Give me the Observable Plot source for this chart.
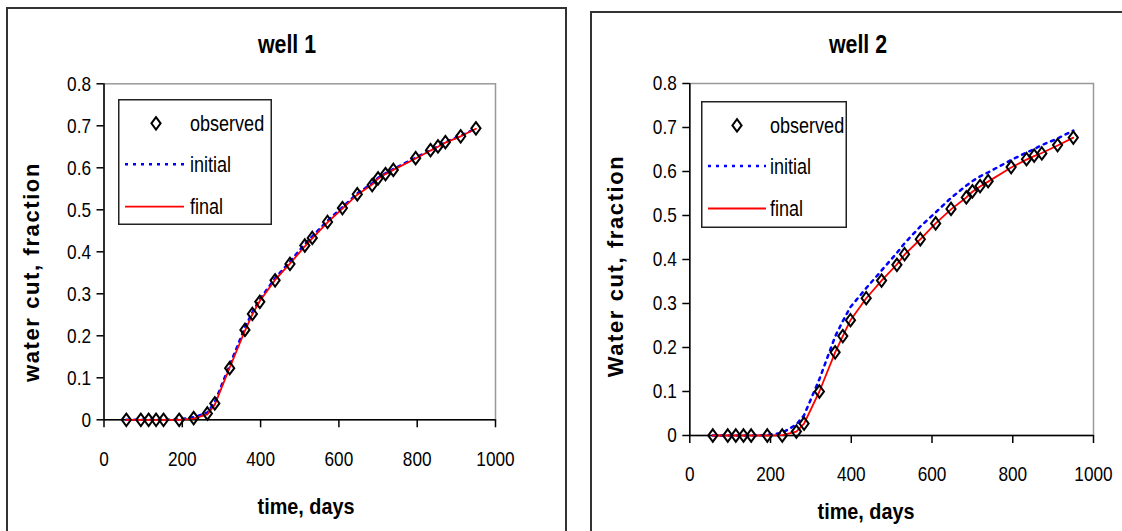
<!DOCTYPE html>
<html>
<head>
<meta charset="utf-8">
<script src="https://cdn.jsdelivr.net/npm/d3@7"></script>
<script src="https://cdn.jsdelivr.net/npm/@observablehq/plot@0.6"></script>
<style>
  html, body { margin: 0; padding: 0; background: #fff; }
  #wrap { position: relative; width: 1122px; height: 531px; overflow: hidden; background: #fff; }
  .abs { position: absolute; }
  .panel { position: absolute; border: 2px solid #333; box-sizing: border-box; }
  .title { position: absolute; font-family: "Liberation Sans", Arial, sans-serif; font-weight: bold; font-size: 26px; transform: translate(-50%, -50%) scaleX(0.82); white-space: nowrap; }
  .xlab { position: absolute; font-family: "Liberation Sans", Arial, sans-serif; font-weight: bold; font-size: 22px; transform: translate(-50%, -50%) scaleX(0.9); white-space: nowrap; }
  .ylab { position: absolute; font-family: "Liberation Sans", Arial, sans-serif; font-weight: bold; font-size: 22px; letter-spacing: 1.6px; transform: translate(-50%, -50%) rotate(-90deg); white-space: nowrap; }
</style>
</head>
<body>
<div id="wrap"></div>
<script>
// ---------- data ----------
const times = [57, 94, 114, 133, 152, 192, 229, 264, 283, 321, 360, 379, 398, 437, 475, 513, 532, 571, 609, 647, 685, 700, 719, 739, 796, 834, 853, 872, 911, 950];

const well1Observed = [0, 0, 0, 0, 0, 0, 0.004, 0.015, 0.039, 0.123, 0.214, 0.252, 0.281, 0.332, 0.371, 0.415, 0.433, 0.471, 0.504, 0.537, 0.559, 0.575, 0.585, 0.595, 0.623, 0.642, 0.651, 0.661, 0.675, 0.694];
const well1Initial  = [0, 0, 0, 0, 0, 0.001, 0.006, 0.017, 0.042, 0.13, 0.22, 0.256, 0.287, 0.337, 0.377, 0.418, 0.437, 0.474, 0.506, 0.539, 0.563, 0.576, 0.587, 0.597, 0.624, 0.642, 0.651, 0.661, 0.676, 0.694];
const well1Final    = [0, 0, 0, 0, 0, 0, 0.003, 0.013, 0.036, 0.124, 0.212, 0.251, 0.283, 0.333, 0.372, 0.413, 0.432, 0.470, 0.503, 0.536, 0.560, 0.574, 0.585, 0.595, 0.622, 0.641, 0.650, 0.660, 0.675, 0.693];

const well2Observed = [0, 0, 0, 0, 0, 0, 0, 0.009, 0.027, 0.100, 0.189, 0.226, 0.262, 0.312, 0.352, 0.388, 0.412, 0.446, 0.482, 0.515, 0.541, 0.555, 0.567, 0.578, 0.610, 0.628, 0.636, 0.641, 0.660, 0.677];
const well2Initial  = [0, 0, 0, 0, 0, 0.001, 0.006, 0.025, 0.046, 0.128, 0.225, 0.26, 0.292, 0.335, 0.375, 0.415, 0.437, 0.475, 0.507, 0.54, 0.568, 0.578, 0.589, 0.598, 0.626, 0.643, 0.651, 0.66, 0.675, 0.693];
const well2Final    = [0, 0, 0, 0, 0, 0, 0.001, 0.009, 0.027, 0.100, 0.189, 0.226, 0.262, 0.312, 0.352, 0.389, 0.411, 0.446, 0.482, 0.514, 0.541, 0.554, 0.566, 0.577, 0.609, 0.627, 0.635, 0.642, 0.659, 0.677];

const xTicks = [0, 200, 400, 600, 800, 1000];
const xTickLabels = ["0", "200", "400", "600", "800", "1000"];
const yTicks = [0, 0.1, 0.2, 0.3, 0.4, 0.5, 0.6, 0.7, 0.8];
const yTickLabels = ["0", "0.1", "0.2", "0.3", "0.4", "0.5", "0.6", "0.7", "0.8"];

const seriesNames = ["observed", "initial", "final"];
const titles = ["well 1", "well 2"];
const yTitles = ["water cut,  fraction", "Water cut,  fraction"];
const xTitle = "time, days";

// ---------- helpers ----------
const tickFont = "'Liberation Sans', Arial, sans-serif";
const NARROW = 0.82;
const tallDiamond = {
  draw(ctx, size) {
    const r = Math.sqrt(size / Math.PI);
    ctx.moveTo(0, -r * 1.35);
    ctx.lineTo(r, 0);
    ctx.lineTo(0, r * 1.35);
    ctx.lineTo(-r, 0);
    ctx.closePath();
  }
};
const rows = (obs) => times.map((t, i) => ({t, v: obs[i]}));

// horizontally condense svg texts around their anchor point
function condense(sel, k) {
  sel.each(function () {
    const t = d3.select(this);
    const tr = t.attr("transform") || "";
    const x = parseFloat(t.attr("x")) || 0;
    t.attr("x", null);
    t.attr("transform", `${tr} translate(${x},0) scale(${k},1)`);
  });
}

const wrap = d3.select("#wrap");

function panel(cfg) {
  wrap.append("div").attr("class", "panel")
    .style("left", cfg.box[0] + "px").style("top", cfg.box[1] + "px")
    .style("width", cfg.box[2] + "px").style("height", cfg.box[3] + "px");

  const chart = Plot.plot({
    width: cfg.w, height: 531,
    marginLeft: cfg.ml, marginRight: cfg.mr, marginTop: cfg.mt, marginBottom: cfg.mb,
    x: {domain: [0, 1000]},
    y: {domain: [0, 0.8]},
    style: {fontFamily: tickFont, fontSize: "21px", color: "#000", background: "transparent", overflow: "visible"},
    marks: [
      Plot.frame({stroke: "#999", strokeWidth: 1.5}),
      Plot.axisX({ticks: xTicks, tickSize: 8, tickPadding: 23, tickFormat: (d) => xTickLabels[xTicks.indexOf(d)], label: null, strokeWidth: 1.5}),
      Plot.axisY({ticks: yTicks, tickSize: 7, tickPadding: 6, tickFormat: (d) => yTickLabels[yTicks.findIndex(v => Math.abs(v - d) < 1e-9)], label: null, strokeWidth: 1.5}),
      Plot.ruleX([0], {stroke: "#000", strokeWidth: 1.5}),
      Plot.ruleY([0], {stroke: "#000", strokeWidth: 1.5}),
      Plot.line(rows(cfg.initial), {x: "t", y: "v", stroke: "#0000ff", strokeWidth: 2.5, strokeDasharray: "3,5"}),
      Plot.line(rows(cfg.final), {x: "t", y: "v", stroke: "#ff0000", strokeWidth: 1.8}),
      Plot.dot(rows(cfg.observed), {x: "t", y: "v", symbol: tallDiamond, r: 4.6, stroke: "#000", strokeWidth: 2, fill: "none"})
    ]
  });
  condense(d3.select(chart).selectAll("g[aria-label='x-axis tick label'] text, g[aria-label='y-axis tick label'] text"), NARROW);
  const holder = wrap.append("div").attr("class", "abs").style("left", cfg.left + "px").style("top", "0px");
  holder.node().appendChild(chart);

  wrap.append("div").attr("class", "title").style("left", cfg.title[0] + "px").style("top", cfg.title[1] + "px").text(cfg.titleText);
  wrap.append("div").attr("class", "xlab").style("left", cfg.xlab[0] + "px").style("top", cfg.xlab[1] + "px").text(xTitle);
  wrap.append("div").attr("class", "ylab").style("left", cfg.ylab[0] + "px").style("top", cfg.ylab[1] + "px").text(cfg.yText);

  // legend
  const [lx, ly, lw, lh] = cfg.legend;
  const leg = wrap.append("svg").attr("class", "abs")
    .style("left", lx + "px").style("top", ly + "px")
    .attr("width", lw).attr("height", lh);
  leg.append("rect").attr("x", 0.75).attr("y", 0.75).attr("width", lw - 1.5).attr("height", lh - 1.5)
    .attr("fill", "#fff").attr("stroke", "#222").attr("stroke-width", 1.5);
  const rowsY = cfg.legRows.map(y => y - ly);
  const [sx, l0, l1, tx] = cfg.legX.map(x => x - lx);
  const r = 4.6;
  leg.append("path").attr("transform", `translate(${sx},${rowsY[0]})`)
    .attr("d", `M0,${-r * 1.35}L${r},0L0,${r * 1.35}L${-r},0Z`)
    .attr("fill", "none").attr("stroke", "#000").attr("stroke-width", 2);
  leg.append("line").attr("x1", l0).attr("x2", l1).attr("y1", rowsY[1]).attr("y2", rowsY[1])
    .attr("stroke", "#0000ff").attr("stroke-width", 2.5).attr("stroke-dasharray", "3,5");
  leg.append("line").attr("x1", l0).attr("x2", l1).attr("y1", rowsY[2]).attr("y2", rowsY[2])
    .attr("stroke", "#ff0000").attr("stroke-width", 1.8);
  seriesNames.forEach((name, i) => {
    leg.append("text")
      .attr("transform", `translate(${tx},${rowsY[i]}) scale(${NARROW},1)`)
      .attr("dy", "0.35em")
      .attr("font-family", tickFont).attr("font-size", 22).attr("fill", "#000").text(name);
  });
}

panel({
  box: [6, 7, 561, 540], left: 0, w: 566, ml: 103.5, mr: 71, mt: 83.3, mb: 111.7,
  observed: well1Observed, initial: well1Initial, final: well1Final,
  titleText: titles[0], title: [287, 44], xlab: [306, 507], ylab: [32, 272], yText: yTitles[0],
  legend: [118, 99, 154, 126], legRows: [123.3, 164.3, 206.7], legX: [156, 125, 184, 190]
});
panel({
  box: [590, 11, 560, 540], left: 580, w: 542, ml: 109.3, mr: 29, mt: 83, mb: 96,
  observed: well2Observed, initial: well2Initial, final: well2Final,
  titleText: titles[1], title: [858, 44], xlab: [866, 512], ylab: [616, 266], yText: yTitles[1],
  legend: [701, 101, 146, 127], legRows: [125.4, 166, 208.5], legX: [737, 708, 766, 770]
});
</script>
</body>
</html>
